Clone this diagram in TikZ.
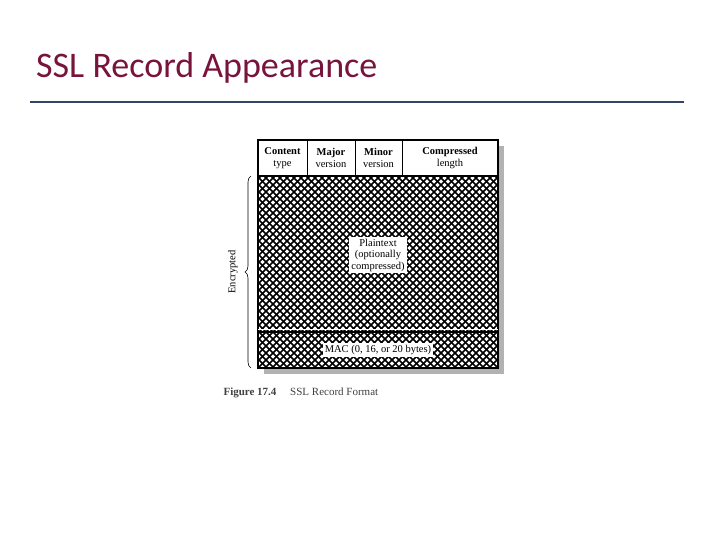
\documentclass[tikz,border=0pt]{standalone}
\usepackage{fontspec}
\setmainfont{Liberation Serif}
\newfontfamily\titlefont{Carlito}
\usetikzlibrary{decorations.pathreplacing}
\definecolor{titlecol}{RGB}{120,20,60}
\definecolor{rulecol}{RGB}{50,70,100}
\tikzset{
  lbl/.style={font=\fontsize{10.5}{11.5}\selectfont, align=center, inner sep=1pt},
  holelbl/.style={lbl, fill=white, inner sep=2pt},
  hatch/.style={line width=1.7pt, black}
}
\begin{document}
\begin{tikzpicture}[x=1pt,y=-1pt]
\useasboundingbox (0,0) rectangle (720,540);
\node[anchor=west, text=titlecol, font=\titlefont\fontsize{36}{40}\selectfont, inner sep=0] (title) at (36,68) {SSL Record Appearance};
\coordinate (rl) at (30,102); \coordinate (rr) at (684,102);
\draw[rulecol, line width=2pt] (rl) -- (rr);
\fill[gray!60] (264,146) rectangle (504,374);
\fill[white] (258,140) rectangle (498,368);
\begin{scope}
\clip (258,176) rectangle (498,368);
\foreach \i in {-260,-253,...,260} {
  \draw[hatch] (258+\i,176) -- ++(200,200);
  \draw[hatch] (498-\i,176) -- ++(-200,200);
}
\end{scope}
\draw[line width=1.8pt] (258,140) rectangle (498,368);
\draw[line width=1.2pt] (258,176) -- (498,176);
\draw[white, line width=1.5pt] (258,329.5) -- (498,329.5);
\draw[line width=1.8pt] (258,332) -- (498,332);
\draw[line width=1pt] (307,140) -- (307,176) (355,140) -- (355,176) (402,140) -- (402,176);
\node[lbl] (ct) at (282.5,158) {\textbf{Content}\\type};
\node[lbl] (mj) at (331,158) {\textbf{Major}\\version};
\node[lbl] (mn) at (378.5,158) {\textbf{Minor}\\version};
\node[lbl] (cl) at (450,158) {\textbf{Compressed}\\length};
\node[holelbl] (pt) at (378,255) {Plaintext\\(optionally\\compressed)};
\node[holelbl] (mac) at (378,350) {MAC (0, 16, or 20 bytes)};
\coordinate (bt) at (251,176); \coordinate (bb) at (251,368);
\draw[decorate, decoration={brace, amplitude=6pt}, line width=0.6pt] (bb) -- (bt) node[midway, xshift=-12pt, rotate=90, anchor=south, lbl] (enc) {Encrypted};
\node[anchor=west, font=\fontsize{11}{12}\selectfont, text=black!75] (cap) at (220,393) {\textbf{Figure 17.4}\quad\ SSL Record Format};
\end{tikzpicture}
\end{document}
